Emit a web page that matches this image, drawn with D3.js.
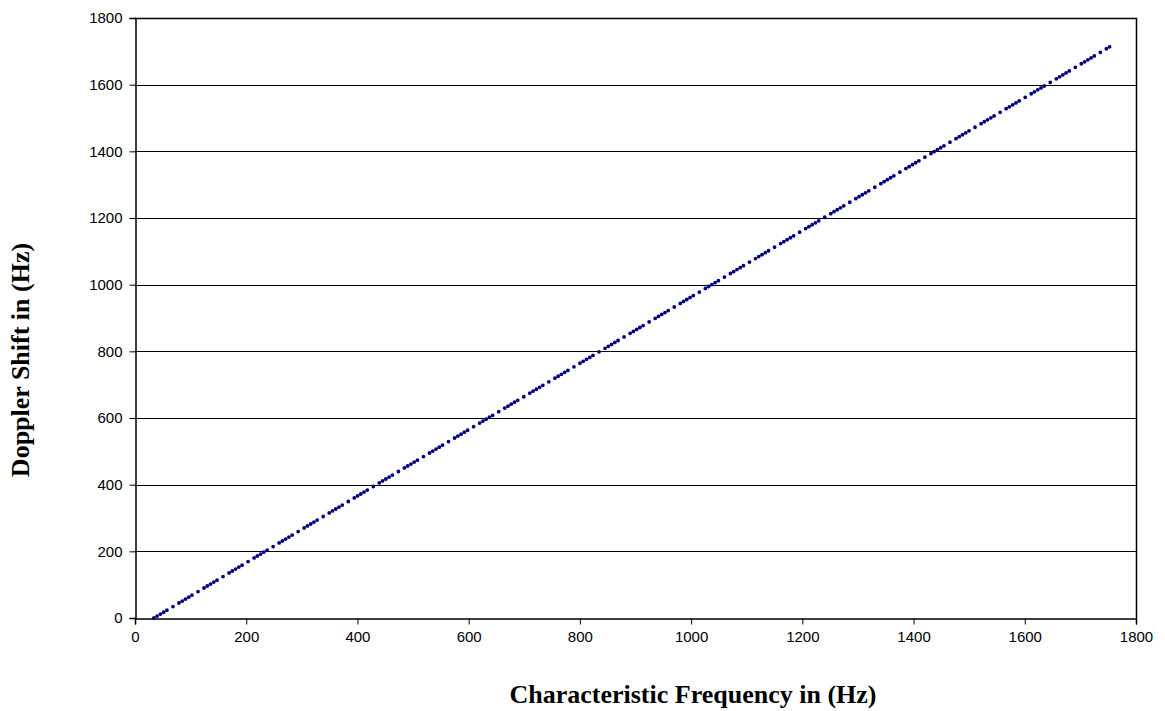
<!DOCTYPE html>
<html>
<head>
<meta charset="utf-8">
<script src="https://cdn.jsdelivr.net/npm/d3@7"></script>
<style>
  body { margin: 0; background: #fff; }
  svg { display: block; }
</style>
</head>
<body>
<div id="chart"></div>
<script>
// values
const frequency = [34, 234, 434, 635, 836, 1037, 1238, 1438, 1639, 1758];
const dopplerShift = [0, 200, 400, 600, 800, 1000, 1200, 1400, 1600, 1719];
const xTicks = [0, 200, 400, 600, 800, 1000, 1200, 1400, 1600, 1800];
const yTicks = [0, 200, 400, 600, 800, 1000, 1200, 1400, 1600, 1800];
const xTitle = "Characteristic Frequency in (Hz)";
const yTitle = "Doppler Shift in (Hz)";

const width = 1165, height = 711;
const margin = { top: 18, right: 29, bottom: 93, left: 135 };

const svg = d3.select("#chart").append("svg")
    .attr("width", width)
    .attr("height", height);

const x = d3.scaleLinear().domain([0, 1800]).range([margin.left, width - margin.right]);
const y = d3.scaleLinear().domain([0, 1800]).range([height - margin.bottom, margin.top]);

// horizontal gridlines
svg.append("g")
    .selectAll("line")
    .data(yTicks.slice(1, -1))
    .enter().append("line")
    .attr("x1", x(0))
    .attr("x2", x(1800))
    .attr("y1", d => Math.round(y(d)) + 0.5)
    .attr("y2", d => Math.round(y(d)) + 0.5)
    .attr("stroke", "#000")
    .attr("stroke-width", 1);

// top and right border of the plot area
svg.append("path")
    .attr("d", `M${x(0)},${Math.round(y(1800)) + 0.5}H${Math.round(x(1800)) + 0.5}V${y(0)}`)
    .attr("fill", "none")
    .attr("stroke", "#000")
    .attr("stroke-width", 1.5);

const xAxis = svg.append("g")
    .attr("transform", `translate(0,${Math.round(y(0)) + 0.5})`)
    .call(d3.axisBottom(x).tickValues(xTicks).tickSize(6).tickPadding(7).tickFormat(d3.format("d")));

const yAxis = svg.append("g")
    .attr("transform", `translate(${Math.round(x(0)) + 0.5},0)`)
    .call(d3.axisLeft(y).tickValues(yTicks).tickSize(6).tickPadding(7).tickFormat(d3.format("d")));

[xAxis, yAxis].forEach(ax => {
    ax.select(".domain").attr("stroke", "#000").attr("stroke-width", 1.5);
    ax.selectAll(".tick line").attr("stroke", "#000");
    ax.selectAll("text")
        .attr("font-family", "'Liberation Sans', Arial, sans-serif")
        .attr("font-size", 15)
        .attr("fill", "#000");
});

// the series, drawn as the dotted dash-dot line of the original
const line = d3.line()
    .x((d, i) => x(frequency[i]))
    .y(d => y(d));

svg.append("path")
    .datum(dopplerShift)
    .attr("d", line)
    .attr("fill", "none")
    .attr("stroke", "#000080")
    .attr("stroke-width", 3.8)
    .attr("stroke-linecap", "round")
    .attr("stroke-dasharray", "0,3.8,0,3.8,0,3.8,0,3.8,0,7,0,7");

// axis titles
svg.append("text")
    .attr("x", 693)
    .attr("y", 703)
    .attr("text-anchor", "middle")
    .attr("font-family", "'Liberation Serif', 'Times New Roman', serif")
    .attr("font-weight", "bold")
    .attr("font-size", 26)
    .text(xTitle);

svg.append("text")
    .attr("transform", "translate(29,360) rotate(-90)")
    .attr("text-anchor", "middle")
    .attr("font-family", "'Liberation Serif', 'Times New Roman', serif")
    .attr("font-weight", "bold")
    .attr("font-size", 26)
    .text(yTitle);
</script>
</body>
</html>
